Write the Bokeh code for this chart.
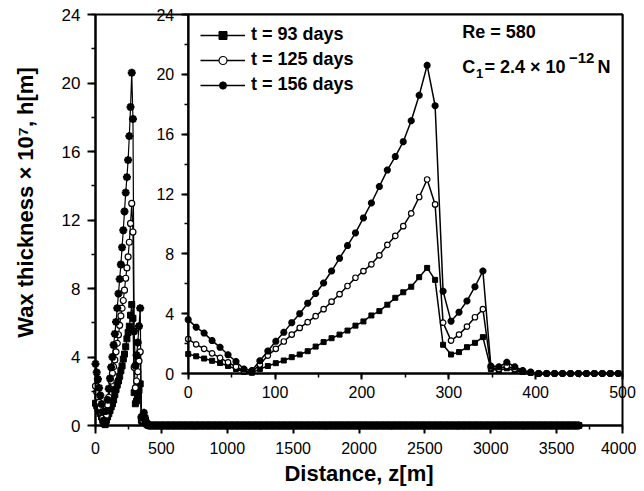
import numpy as np
from bokeh.plotting import figure
from bokeh.models import Range1d, LinearAxis, SingleIntervalTicker, Label
from bokeh.embed import file_html
from bokeh.resources import INLINE

FONT = "Liberation Sans"

# ---------------- data ----------------
DZ = 9.17          # spacing of computed points along the pipe, m
N_POINTS = 401     # points up to ~3667 m
labels = ["t = 93 days", "t = 125 days", "t = 156 days"]

# wax thickness x 1e7 [m] at z = k*DZ, k = 0, 1, 2, ... (zero beyond)
h93_head = [1.3, 1.15, 1.0, 0.85, 0.7, 0.5, 0.3, 0.12, 0.05, 0.3,
            0.5, 0.69, 0.87, 1.09, 1.27, 1.49, 1.8, 2.1, 2.36, 2.6,
            2.87, 3.2, 3.48, 3.88, 4.17, 4.6, 5.06, 5.43, 5.8, 6.44,
            7.06, 6.26, 1.92, 1.27, 1.43, 1.76, 2.05, 2.43, 0.3, 0.2,
            0.35, 0.2, 0.1, 0.05]
h125_head = [2.3, 1.95, 1.65, 1.35, 1.05, 0.75, 0.45, 0.15, 0.1, 0.6,
             1.2, 1.65, 2.14, 2.6, 3.05, 3.43, 3.83, 4.3, 4.8, 5.3,
             5.85, 6.4, 6.85, 7.3, 7.9, 8.6, 9.2, 9.85, 10.7, 11.8,
             12.97, 11.3, 3.4, 2.2, 2.6, 3.14, 3.76, 4.3, 0.4, 0.3,
             0.5, 0.3, 0.15, 0.05]
h156_head = [3.6, 3.1, 2.7, 2.2, 1.75, 1.25, 0.8, 0.3, 0.2, 0.85,
             1.5, 2.15, 2.75, 3.4, 4.0, 4.7, 5.35, 6.05, 6.85, 7.7,
             8.55, 9.4, 10.4, 11.4, 12.5, 13.6, 14.5, 15.5, 16.9, 18.6,
             20.6, 17.9, 5.5, 3.5, 4.1, 4.85, 5.8, 6.85, 0.5, 0.45,
             0.75, 0.45, 0.2, 0.1]

X_MAX_MAIN, Y_MAX = 4000, 24
X_MAX_INSET = 500

z_all = [round(k * DZ, 2) for k in range(N_POINTS)]
def full(head):
    return head + [0.0] * (N_POINTS - len(head))
series = [full(h93_head), full(h125_head), full(h156_head)]
n_inset = sum(1 for z in z_all if z <= X_MAX_INSET)

# ---------------- layout ----------------
# The whole canvas is the plot frame; axes are drawn at fixed locations so
# that both the main plot and the inset live in one frame.
W, H = 636, 489

def xrange_for(d0, d1, p0, p1):
    s = (p1 - p0) / (d1 - d0)
    return Range1d(d0 - p0 / s, d0 + (W - p0) / s)

def yrange_for(d0, d1, p0, p1):          # p0: pixel of d0 (bottom), p1 of d1
    s = (p0 - p1) / (d1 - d0)
    return Range1d(d0 - (H - p0) / s, d0 + p0 / s)

p = figure(width=W, height=H, output_backend="svg", toolbar_location=None,
           x_range=xrange_for(0, X_MAX_MAIN, 95, 622),
           y_range=yrange_for(0, Y_MAX, 425, 14),
           x_axis_location=None, y_axis_location=None, min_border=0)
p.xgrid.visible = False
p.ygrid.visible = False
p.outline_line_color = None
p.background_fill_color = "white"
p.border_fill_color = "white"
p.extra_x_ranges = {"ix": xrange_for(0, X_MAX_INSET, 187.7, 622)}
p.extra_y_ranges = {"iy": yrange_for(0, Y_MAX, 373, 14)}

def style_axis(ax, size):
    ax.axis_line_width = 2
    ax.axis_line_color = "black"
    ax.major_tick_line_width = 2
    ax.minor_tick_line_width = 1.5
    ax.major_tick_out = 8
    ax.major_tick_in = 0
    ax.minor_tick_out = 4
    ax.minor_tick_in = 0
    ax.major_label_text_font = FONT
    ax.major_label_text_font_size = size
    ax.major_label_text_color = "black"

# ---- main frame box ----
p.quad(left=[0], right=[X_MAX_MAIN], bottom=[0], top=[Y_MAX],
       fill_color=None, line_color="black", line_width=2)

# ---- main plot data ----
marker_specs = [
    dict(marker="square", fill_color="black", line_color="black", line_width=1),
    dict(marker="circle", fill_color="white", line_color="black", line_width=1.2),
    dict(marker="asterisk", fill_color="black", line_color="black", line_width=2.4),
]
main_sizes = [6, 6, 8]
for h in series:
    p.line(z_all, h, line_color="black", line_width=1.2)
for h, spec, s in zip(series, marker_specs, main_sizes):
    p.scatter(z_all, h, size=s, **spec)

xa = LinearAxis(fixed_location=0, bounds=(0, X_MAX_MAIN),
                ticker=SingleIntervalTicker(interval=500, num_minor_ticks=2))
ya = LinearAxis(fixed_location=0, bounds=(0, Y_MAX),
                ticker=SingleIntervalTicker(interval=4, num_minor_ticks=2))
style_axis(xa, "16px")
style_axis(ya, "17px")
xa.major_label_standoff = 8
ya.major_label_standoff = 7
p.add_layout(xa, "below")
p.add_layout(ya, "left")

# ---- inset ----
p.quad(left=[0], right=[X_MAX_INSET], bottom=[0], top=[Y_MAX],
       x_range_name="ix", y_range_name="iy",
       fill_color="white", line_color="black", line_width=2)

ixa = LinearAxis(x_range_name="ix", y_range_name="iy", fixed_location=0,
                 bounds=(0, X_MAX_INSET),
                 ticker=SingleIntervalTicker(interval=100, num_minor_ticks=2))
iya = LinearAxis(x_range_name="ix", y_range_name="iy", fixed_location=0,
                 bounds=(0, Y_MAX),
                 ticker=SingleIntervalTicker(interval=4, num_minor_ticks=2))
style_axis(ixa, "16px")
style_axis(iya, "16px")
ixa.major_tick_out = 6
iya.major_tick_out = 7
ixa.major_label_standoff = 6
iya.major_label_standoff = 7
p.add_layout(ixa, "below")
p.add_layout(iya, "left")

z_in = z_all[:n_inset]
inset_sizes = [5, 5.5, 7]
for h, spec, s, lab in zip(series, marker_specs, inset_sizes, labels):
    p.line(z_in, h[:n_inset], x_range_name="ix", y_range_name="iy",
           line_color="black", line_width=1.5, legend_label=lab)
    p.scatter(z_in, h[:n_inset], x_range_name="ix", y_range_name="iy",
              size=s, legend_label=lab, **spec)

lg = p.legend[0]
lg.location = (200, H - 95)
lg.margin = 0
lg.padding = 0
lg.spacing = 4
lg.glyph_width = 45
lg.glyph_height = 20
lg.label_height = 20
lg.label_standoff = 6
lg.label_text_font = FONT
lg.label_text_font_style = "bold"
lg.label_text_font_size = "18px"
lg.label_text_color = "black"
lg.border_line_color = None
lg.background_fill_alpha = 0

# ---- texts, placed by reference pixel position ----
X0, X1, Y0, Y1 = 95.0, 622.0, 425.0, 14.0
def dx(px):
    return (px - X0) / (X1 - X0) * X_MAX_MAIN
def dy(py):
    return (Y0 - py) / (Y0 - Y1) * Y_MAX

def lab(text, px, py, size, bold=True, align="left", angle=0.0):
    p.add_layout(Label(x=dx(px), y=dy(py), text=text, text_font=FONT,
                       text_font_style="bold" if bold else "normal",
                       text_font_size=size, text_color="black",
                       text_baseline="middle", text_align=align, angle=angle))

lab("Re = 580", 461.7, 31.5, "18px")
lab("C", 461.7, 66, "18px")
lab("1", 475.5, 72.5, "13px")
lab("= 2.4 \u00d7 10", 484, 66, "18px")
lab("\u221212", 568.5, 57.5, "15px")
lab("N", 597, 66, "18px")

# axis titles
lab("Distance, z[m]", 358.5, 473, "22px", align="center")
lab("Wax thickness \u00d7 10\u2077, h[m]", 25, 202, "22px", align="center",
    angle=np.pi / 2)

open("out.html", "w").write(file_html(p, INLINE))
